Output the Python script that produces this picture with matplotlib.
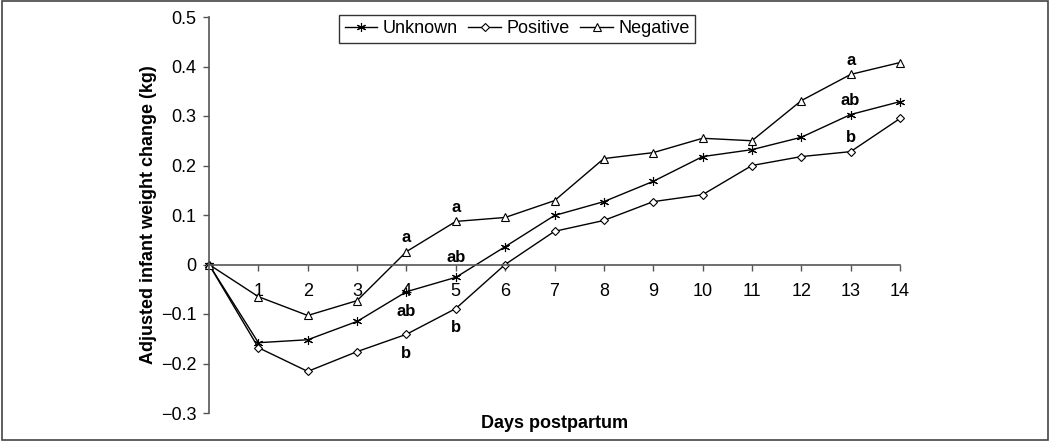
import matplotlib
matplotlib.use("Agg")
import matplotlib.pyplot as plt
from matplotlib.patches import Rectangle

plt.rcParams['font.family'] = ['Liberation Sans', 'DejaVu Sans']

days = list(range(0, 15))
unknown = [0, -0.158, -0.152, -0.115, -0.055, -0.026, 0.036, 0.099, 0.127, 0.168, 0.218, 0.232, 0.257, 0.303, 0.329]
positive = [0, -0.168, -0.216, -0.176, -0.141, -0.089, 0.0, 0.067, 0.089, 0.127, 0.141, 0.200, 0.218, 0.228, 0.295]
negative = [0, -0.065, -0.103, -0.073, 0.026, 0.087, 0.095, 0.129, 0.214, 0.226, 0.255, 0.250, 0.331, 0.384, 0.408]
yticks = [-0.3, -0.2, -0.1, 0, 0.1, 0.2, 0.3, 0.4, 0.5]
ytick_labels = ['\u22120.3', '\u22120.2', '\u22120.1', '0', '0.1', '0.2', '0.3', '0.4', '0.5']

# significance letters: (day, value, text, offset in points)
letters = [
    (4, 0.026, 'a', 10), (4, -0.055, 'ab', -14), (4, -0.141, 'b', -14),
    (5, 0.087, 'a', 10), (5, -0.026, 'ab', 14), (5, -0.089, 'b', -14),
    (13, 0.384, 'a', 10), (13, 0.303, 'ab', 10), (13, 0.228, 'b', 10),
]

fig = plt.figure(figsize=(10.5, 4.41), dpi=100)
ax = fig.add_axes([209/1050, 1-413/441, (900-209)/1050, (413-17)/441])

mk = dict(color='black', lw=1.0, markerfacecolor='white', markeredgecolor='black',
          markeredgewidth=0.8, clip_on=False)
ax.plot(days, unknown, marker=(6, 2, 0), markersize=6.5, label='Unknown', **mk)
ax.plot(days, positive, marker='D', markersize=4, label='Positive', **mk)
ax.plot(days, negative, marker='^', markersize=6, label='Negative', **mk)

for d, v, t, off in letters:
    ax.annotate(t, (d, v), xytext=(0, off), textcoords='offset points',
                ha='center', va='center', fontsize=12, fontweight='bold')

ax.set_xlim(0, 14)
ax.set_ylim(-0.3, 0.5)
ax.set_yticks(yticks)
ax.set_yticklabels(ytick_labels)
ax.set_xticks(days[1:])
ax.set_xticklabels([str(d) for d in days[1:]])
ax.spines['top'].set_visible(False)
ax.spines['right'].set_visible(False)
ax.spines['bottom'].set_position(('data', 0))
for s in ('left', 'bottom'):
    ax.spines[s].set_color('#555555')
    ax.spines[s].set_linewidth(1.2)
ax.tick_params(axis='both', colors='#555555', labelcolor='black', length=4, width=1,
               labelsize=13)
ax.tick_params(axis='x', pad=9)
ax.tick_params(axis='y', pad=5)

ax.set_ylabel('Adjusted infant weight change (kg)', fontsize=13, fontweight='bold', labelpad=3)
ax.text(0.5, -0.0265, 'Days postpartum', transform=ax.transAxes, ha='center', va='center',
        fontsize=13, fontweight='bold')

leg = ax.legend(loc='center', bbox_to_anchor=(0.446, 0.97), ncol=3, fontsize=13,
                frameon=True, fancybox=False, edgecolor='black', handlelength=1.8,
                handletextpad=0.3, columnspacing=0.6, borderpad=0.3, borderaxespad=0)
leg.get_frame().set_linewidth(1.0)

fig.patches.append(Rectangle((0.002, 0.003), 0.996, 0.994, transform=fig.transFigure,
                             fill=False, edgecolor='#444444', lw=1.2))

fig.savefig('out.png', dpi=100)
